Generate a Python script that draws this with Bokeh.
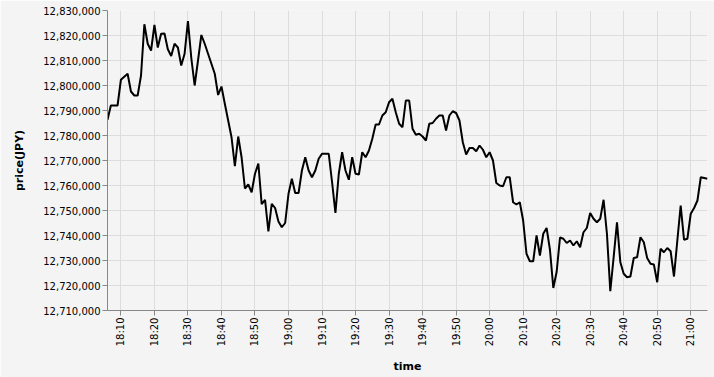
import math
import pandas as pd
from bokeh.plotting import figure
from bokeh.models import (Range1d, FixedTicker, NumeralTickFormatter,
                          DatetimeTickFormatter, ColumnDataSource)
from bokeh.embed import file_html
from bokeh.resources import INLINE

# ---- data (one price per minute, starting 18:06) ----
start_time = "2021-01-01 18:06"
prices = [
    12786300, 12792000, 12792000, 12792000, 12802300, 12803500, 12804700, 12797600, 12796000, 12796000,
    12804000, 12824500, 12816700, 12814000, 12824200, 12815200, 12820700, 12820800, 12814500, 12811800,
    12816700, 12815200, 12808000, 12812700, 12825800, 12811000, 12800000, 12810000, 12820200, 12816700,
    12812700, 12808700, 12804700, 12796200, 12799600, 12792700, 12786000, 12779300, 12767700, 12779600,
    12771300, 12758800, 12760400, 12757300, 12764700, 12768800, 12752500, 12754300, 12741600, 12752700,
    12751000, 12745600, 12743300, 12745000, 12756700, 12762700, 12757000, 12757000, 12766000, 12771300,
    12766000, 12763300, 12766000, 12770700, 12772700, 12772700, 12772700, 12761300, 12749000, 12764700,
    12773300, 12766000, 12762300, 12771300, 12764700, 12764400, 12773300, 12771300, 12774000, 12778700,
    12784400, 12784400, 12788000, 12789300, 12793300, 12794700, 12789300, 12784700, 12783300, 12794000,
    12794000, 12782700, 12780300, 12780700, 12779600, 12778000, 12784700, 12785000, 12786700, 12788000,
    12788000, 12782000, 12788000, 12789700, 12789000, 12786000, 12777300, 12772400, 12775000, 12775000,
    12773700, 12776000, 12774300, 12771300, 12773300, 12770000, 12761000, 12760000, 12759700, 12763300,
    12763300, 12753300, 12752400, 12753300, 12746000, 12732700, 12729700, 12729700, 12740000, 12732000,
    12740700, 12743000, 12734300, 12719000, 12725500, 12739200, 12738700, 12737000, 12738000, 12736000,
    12737700, 12735300, 12741300, 12743000, 12749000, 12746700, 12745300, 12746700, 12754300, 12740700,
    12717700, 12731300, 12745300, 12729300, 12724700, 12723300, 12723600, 12731000, 12731300, 12739300,
    12737300, 12731000, 12728700, 12728400, 12721300, 12734700, 12733300, 12735000, 12733700, 12723600,
    12738000, 12752000, 12738300, 12738700, 12748700, 12751000, 12754000, 12763300, 12763000, 12762700,
]
times = pd.date_range(start_time, periods=len(prices), freq="1min")

y_ticks = list(range(12710000, 12830001, 10000))
x_tick_labels = ["18:10", "18:20", "18:30", "18:40", "18:50", "19:00", "19:10", "19:20", "19:30",
                 "19:40", "19:50", "20:00", "20:10", "20:20", "20:30", "20:40", "20:50", "21:00"]
date_str = "2021-01-01 "
x_ticks_ms = [(pd.Timestamp(date_str + lbl) - pd.Timestamp("1970-01-01")) / pd.Timedelta(milliseconds=1)
              for lbl in x_tick_labels]

source = ColumnDataSource(dict(time=times, price=prices))

BG = "#f4f4f4"
FONT = "DejaVu Sans"

p = figure(width=714, height=377, x_axis_type="datetime",
           output_backend="svg", toolbar_location=None,
           x_range=Range1d(times[0], times[-1]),
           y_range=Range1d(y_ticks[0], y_ticks[-1]),
           min_border_left=107, min_border_right=7,
           min_border_top=10, min_border_bottom=67)
p.background_fill_color = BG
p.border_fill_color = BG
p.outline_line_color = None

p.line("time", "price", source=source, line_color="black", line_width=2)

xt = FixedTicker(ticks=x_ticks_ms)
p.xaxis.ticker = xt
p.xgrid.ticker = xt
p.xaxis.formatter = DatetimeTickFormatter(minutes="%H:%M", hourmin="%H:%M", hours="%H:%M",
                                          days="%H:%M", minsec="%H:%M", seconds="%H:%M")
p.xaxis.major_label_orientation = math.pi / 2

yt = FixedTicker(ticks=y_ticks)
p.yaxis.ticker = yt
p.ygrid.ticker = yt
p.yaxis.formatter = NumeralTickFormatter(format="0,0")

for ax in (p.xaxis[0], p.yaxis[0]):
    ax.axis_line_color = "#888888"
    ax.major_tick_line_color = "#888888"
    ax.major_tick_out = 5
    ax.major_tick_in = 0
    ax.minor_tick_line_color = None
    ax.major_label_text_font = FONT
    ax.major_label_text_font_size = "10px"
    ax.major_label_text_color = "#000000"
    ax.major_label_standoff = 2
    ax.axis_label_text_font = FONT
    ax.axis_label_text_font_size = "11px"
    ax.axis_label_text_font_style = "bold"
    ax.axis_label_text_color = "#000000"

p.xaxis.axis_label = "time"
p.yaxis.axis_label = "price(JPY)"
p.xaxis.axis_label_standoff = 11
p.yaxis.axis_label_standoff = 14

p.grid.grid_line_color = "#dddddd"
p.grid.grid_line_width = 1

open("out.html", "w").write(file_html(p, INLINE))
